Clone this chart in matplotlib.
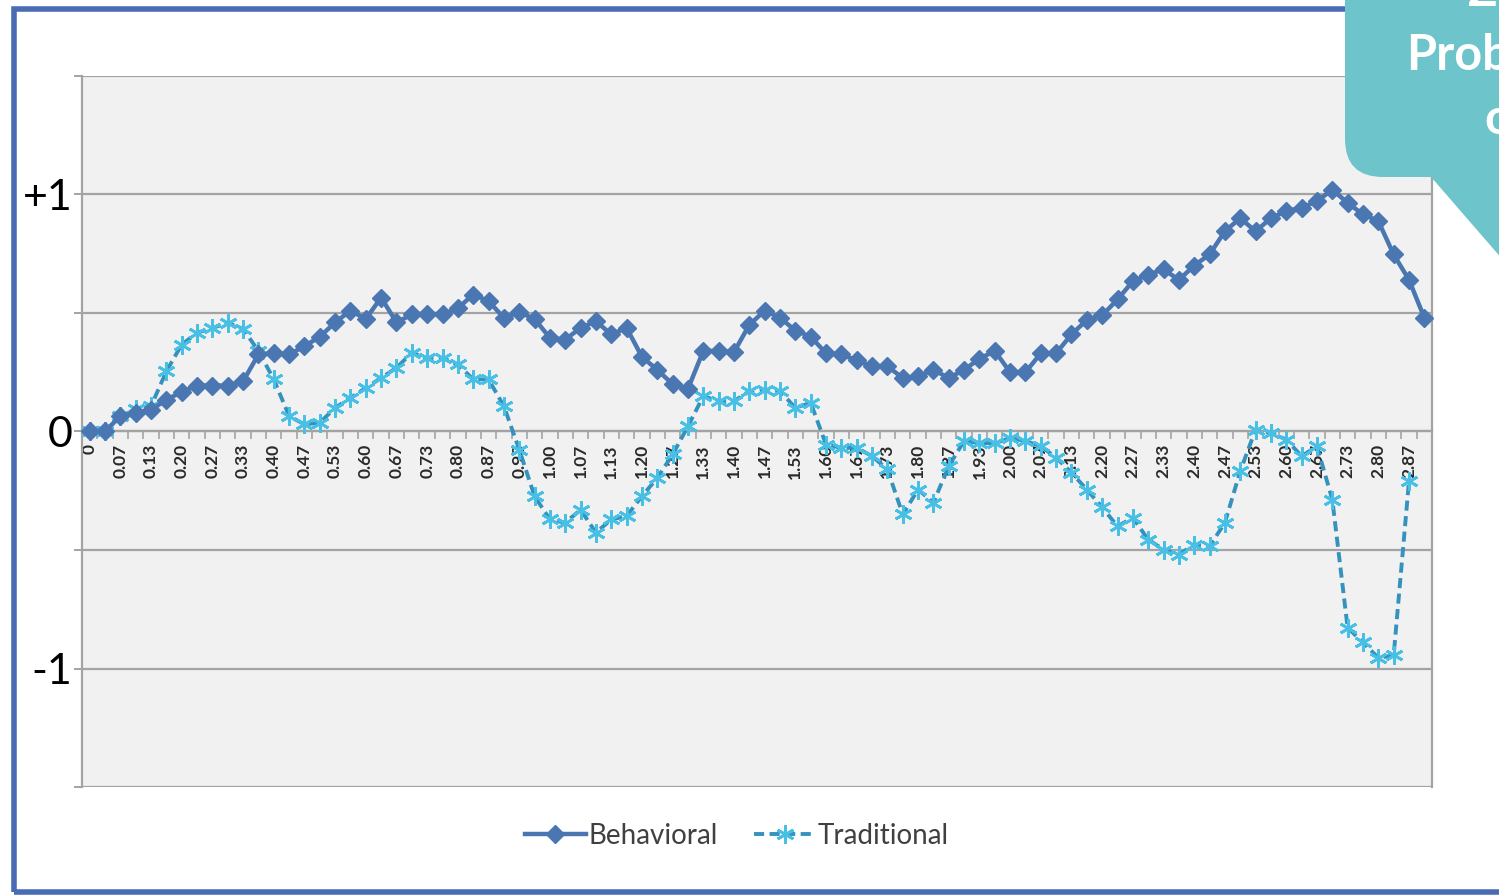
import numpy as np
import matplotlib
matplotlib.use('Agg')
import matplotlib.pyplot as plt
from matplotlib.patches import Rectangle, FancyBboxPatch, Polygon

plt.rcParams['font.family'] = ['Lato', 'DejaVu Sans']

# time axis: one point every 1/30, labelled on every second point
n_points = 88
labels = ['0' if i == 0 else '%.2f' % (i / 30) for i in range(n_points)]

behavioral = [
    0, 0, 0.065, 0.08, 0.09, 0.135, 0.166, 0.194, 0.194, 0.194, 0.212,
    0.325, 0.33, 0.325, 0.36, 0.40, 0.46, 0.51, 0.475, 0.565, 0.46, 0.494,
    0.497, 0.494, 0.52, 0.578, 0.55, 0.48, 0.503, 0.475, 0.395, 0.388, 0.437,
    0.465, 0.41, 0.437, 0.315, 0.26, 0.20, 0.18, 0.34, 0.34, 0.335, 0.45,
    0.51, 0.48, 0.426, 0.40, 0.33, 0.325, 0.30, 0.275, 0.275, 0.226, 0.233,
    0.26, 0.226, 0.26, 0.307, 0.34, 0.25, 0.25, 0.33, 0.33, 0.41, 0.47,
    0.49, 0.557, 0.634, 0.662, 0.684, 0.64, 0.70, 0.747, 0.845, 0.90, 0.845,
    0.90, 0.93, 0.944, 0.972, 1.02, 0.965, 0.916, 0.888, 0.747, 0.64, 0.48,
]

traditional = [
    0, 0, 0.065, 0.093, 0.107, 0.254, 0.367, 0.416, 0.437, 0.458, 0.433,
    0.34, 0.22, 0.065, 0.03, 0.037, 0.10, 0.142, 0.184, 0.226, 0.269, 0.332,
    0.31, 0.31, 0.283, 0.22, 0.22, 0.107, -0.076, -0.273, -0.371, -0.385, -0.33,
    -0.427, -0.371, -0.357, -0.273, -0.196, -0.097, 0.022, 0.149, 0.128, 0.128, 0.17,
    0.177, 0.17, 0.10, 0.121, -0.055, -0.069, -0.069, -0.104, -0.16, -0.35, -0.245,
    -0.30, -0.146, -0.04, -0.048, -0.05, -0.027, -0.04, -0.062, -0.11, -0.174, -0.245,
    -0.32, -0.40, -0.364, -0.456, -0.498, -0.519, -0.477, -0.484, -0.385, -0.167, 0.008,
    -0.006, -0.034, -0.104, -0.062, -0.287, -0.828, -0.89, -0.955, -0.945, -0.21, np.nan,
]

y_ticks = [-1.5, -1, -0.5, 0, 0.5, 1, 1.5]
y_labels = ['', '-1', '', '0', '', '+1', '']

W, H = 1499, 896
fig = plt.figure(figsize=(W / 100, H / 100), dpi=100)
fig.patch.set_facecolor('white')

def px(x, y):
    # pixel (top-left origin) -> inches for dpi_scale_trans
    return (x / 100, (H - y) / 100)

# blue slide frame
fig.patches.append(Rectangle(px(14, 892), (1530 - 14) / 100, (892 - 9) / 100,
                             transform=fig.dpi_scale_trans, fill=False,
                             edgecolor='#4a6cb4', linewidth=4, zorder=0))

l, r, t, b = 82, 1432, 76, 787
ax = fig.add_axes([l / W, 1 - b / H, (r - l) / W, (b - t) / H])
ax.set_facecolor('#f1f1f1')

# spine position first: moving it resets the tick settings
ax.spines['bottom'].set_position(('data', 0))
for s in ['bottom', 'left', 'right']:
    ax.spines[s].set_color('#a3a3a3')
    ax.spines[s].set_linewidth(1.6)
ax.spines['top'].set_visible(False)

x = np.arange(n_points)
ax.plot(x, behavioral, color='#4a76b2', lw=3.2, marker='D', ms=9,
        markerfacecolor='#4a76b2', markeredgecolor='#4a76b2',
        label='Behavioral', zorder=4, clip_on=False)
ax.plot(x, traditional, color='#3592bd', lw=2.8, ls=(0, (2.6, 1.4)),
        marker=(6, 2, 0), ms=13, markeredgecolor='#48c0e6', markeredgewidth=2,
        label='Traditional', zorder=3, clip_on=False)

ax.set_xlim(-0.5, n_points - 0.5)
ax.set_ylim(-1.5, 1.5)

ax.set_yticks(y_ticks)
ax.set_yticklabels(y_labels, fontsize=31, color='black')
ax.yaxis.grid(True, color='#a3a3a3', lw=1.6)
ax.set_axisbelow(True)
ax.tick_params(axis='y', length=6, width=1.4, color='#a3a3a3', pad=1)

ax.set_xticks(x[::2])
ax.set_xticklabels(labels[::2], rotation=90, fontsize=12.5,
                   fontweight='bold', color='#2a2a2a')
ax.set_xticks(np.arange(n_points + 1) - 0.5, minor=True)
ax.tick_params(axis='x', which='major', length=0, pad=9)
ax.tick_params(axis='x', which='minor', length=6, width=1.2,
               color='#a3a3a3', direction='out')

fig.legend(loc='center', bbox_to_anchor=(737 / W, 1 - 836 / H), ncol=2,
           frameon=False, fontsize=20, handlelength=2.2, handletextpad=0.1,
           columnspacing=1.3, labelcolor='#404040')

# teal callout in the top-right corner (cut by the picture edge as in the source)
teal = '#6dc4ca'
fig.patches.append(FancyBboxPatch(px(1345, 177), (1600 - 1345) / 100, 2.6,
                                  boxstyle='round,pad=0,rounding_size=0.38',
                                  transform=fig.dpi_scale_trans,
                                  facecolor=teal, edgecolor='none', zorder=5))
fig.patches.append(Polygon([px(1425, 170), px(1510, 170), px(1510, 268)],
                           closed=True, transform=fig.dpi_scale_trans,
                           facecolor=teal, edgecolor='none', zorder=5))
for s, xx, yy in [('Z', 1468, -8), ('Problem', 1406, 56), ('o', 1484, 120)]:
    fig.text(xx / W, 1 - yy / H, s, color='white', fontsize=35,
             fontweight='bold', ha='left', va='center', zorder=6)

fig.savefig('out.png', dpi=100)
